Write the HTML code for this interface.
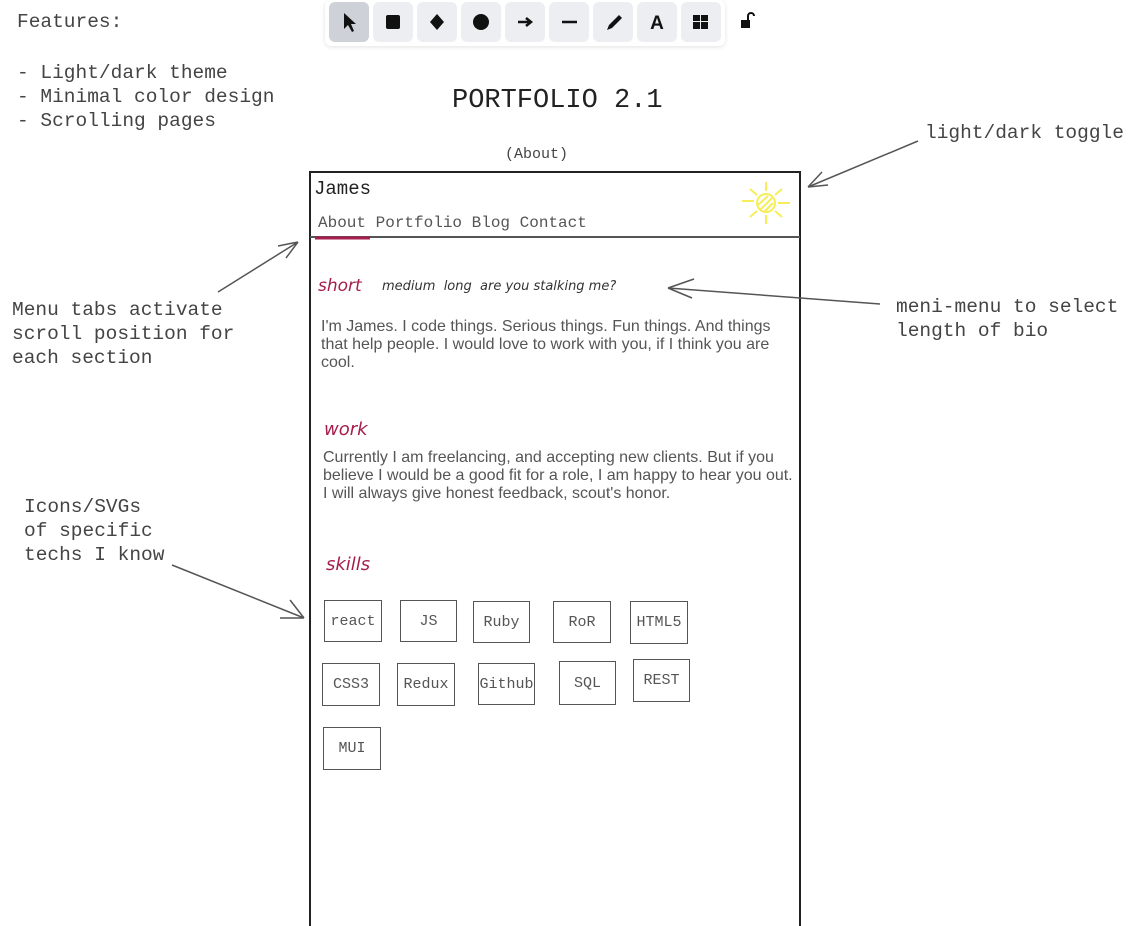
<!DOCTYPE html>
<html><head><meta charset="utf-8"><style>
body{margin:0;width:1134px;height:926px;background:#fff;position:relative;overflow:hidden;font-family:"Liberation Mono",monospace;color:#333}
.a{position:absolute;white-space:pre;line-height:1}
.m{font-size:19.5px;color:#444}
.tb{position:absolute;top:2px;width:40px;height:40px;background:#eceef1;border-radius:6px}
.body{font-family:"Liberation Sans",sans-serif;font-size:16px;color:#555;line-height:18px;white-space:normal}
.hw{font-family:"DejaVu Sans",sans-serif;font-style:italic;color:#a61e4d}
.sk{position:absolute;border:1.5px solid #555;box-sizing:border-box;font-size:15px;color:#555;display:flex;align-items:center;justify-content:center}
</style></head><body>
<div style="position:absolute;left:325px;top:0;width:400px;height:46px;background:#fff;box-shadow:0 1px 4px rgba(0,0,0,.12);border-radius:6px"></div>
<div class="tb" style="left:329px;background:#ced2d8"></div>
<div class="tb" style="left:373px"></div><div class="tb" style="left:417px"></div><div class="tb" style="left:461px"></div><div class="tb" style="left:505px"></div><div class="tb" style="left:549px"></div><div class="tb" style="left:593px"></div><div class="tb" style="left:637px"></div><div class="tb" style="left:681px"></div>
<svg style="position:absolute;left:0;top:0" width="1134" height="926">
<path d="M344 13 L344 29 L348 25 L352 32 L354 31 L351 24 L356 24 Z" fill="#111"/>
<rect x="386" y="15" width="14" height="14" rx="2" fill="#111"/>
<path d="M437 14 L444 22 L437 30 L430 22Z" fill="#111"/>
<circle cx="481" cy="22" r="8" fill="#111"/>
<path d="M518 22 H530 M526 18 L531 22 L526 26" stroke="#111" stroke-width="2.5" fill="none"/>
<path d="M562 22 H577" stroke="#111" stroke-width="2.5"/>
<path d="M607 30 L609 25 L619 15 L622 18 L612 28Z" fill="#111"/>
<text x="657" y="29" font-family="Liberation Sans" font-weight="bold" font-size="19" text-anchor="middle" fill="#111">A</text>
<rect x="693" y="15" width="7" height="6" fill="#111"/><rect x="701" y="15" width="7" height="6" fill="#111"/><rect x="693" y="22" width="7" height="7" fill="#111"/><rect x="701" y="22" width="7" height="7" fill="#111"/>
<rect x="741" y="20" width="9" height="8" fill="#111"/><path d="M748 20 V16 a3 3 0 0 1 6 0" stroke="#111" stroke-width="2" fill="none"/>
<rect x="310" y="172" width="490" height="760" fill="none" stroke="#222" stroke-width="2"/>
<line x1="310" y1="237" x2="800" y2="237" stroke="#555" stroke-width="2"/>
<line x1="315" y1="238" x2="370" y2="238" stroke="#a61e4d" stroke-width="3"/>
<g stroke="#f5ee5a" stroke-width="2" fill="none">
<circle cx="766" cy="203" r="9"/>
<path d="M760 210 L772 198 M758 205 L768 196 M764 212 L773 203"/>
<path d="M766 182 V191 M766 215 V224 M742 201 H754 M778 203 H790 M750 189 L757 195 M775 211 L782 217 M750 217 L757 211 M775 195 L782 189"/>
</g>
<g stroke="#555" stroke-width="1.5" fill="none">
<path d="M918 141 L808 187 M808 187 L822 172 M808 187 L828 185"/>
<path d="M218 292 L298 242 M298 242 L278 246 M298 242 L286 258"/>
<path d="M880 304 L668 288 M668 288 L694 279 M668 288 L692 298"/>
<path d="M172 565 L304 618 M304 618 L290 600 M304 618 L280 618"/>
</g>
</svg>
<div class="a m" style="left:17px;top:13px">Features:</div>
<div class="a m" style="left:17px;top:61px;line-height:24px">- Light/dark theme
- Minimal color design
- Scrolling pages</div>
<div class="a" style="left:452px;top:88px;font-size:27px;color:#222">PORTFOLIO 2.1</div>
<div class="a" style="left:505px;top:147px;font-size:15px;color:#444">(About)</div>
<div class="a m" style="left:925px;top:124px">light/dark toggle</div>
<div class="a m" style="left:12px;top:298px;line-height:24px">Menu tabs activate
scroll position for
each section</div>
<div class="a m" style="left:896px;top:295px;line-height:24px">meni-menu to select
length of bio</div>
<div class="a m" style="left:24px;top:495px;line-height:24px">Icons/SVGs
of specific
techs I know</div>
<div class="a" style="left:314px;top:180px;font-size:19px;color:#222">James</div>
<div class="a" style="left:318px;top:215px;font-size:16px;color:#555">About Portfolio Blog Contact</div>
<div class="a hw" style="left:318px;top:278px;font-size:17px">short</div>
<div class="a hw" style="left:382px;top:280px;font-size:13px;color:#333">medium  long  are you stalking me?</div>
<div class="a body" style="left:321px;top:318px;width:460px">I'm James. I code things. Serious things. Fun things. And things that help people. I would love to work with you, if I think you are cool.</div>
<div class="a hw" style="left:324px;top:421px;font-size:18px">work</div>
<div class="a body" style="left:323px;top:449px;width:474px">Currently I am freelancing, and accepting new clients. But if you believe I would be a good fit for a role, I am happy to hear you out. I will always give honest feedback, scout's honor.</div>
<div class="a hw" style="left:326px;top:556px;font-size:18px">skills</div>
<div class="sk" style="left:324px;top:600px;width:58px;height:42px">react</div>
<div class="sk" style="left:400px;top:600px;width:57px;height:42px">JS</div>
<div class="sk" style="left:473px;top:601px;width:57px;height:42px">Ruby</div>
<div class="sk" style="left:553px;top:601px;width:58px;height:42px">RoR</div>
<div class="sk" style="left:630px;top:601px;width:58px;height:43px">HTML5</div>
<div class="sk" style="left:322px;top:663px;width:58px;height:43px">CSS3</div>
<div class="sk" style="left:397px;top:663px;width:58px;height:43px">Redux</div>
<div class="sk" style="left:478px;top:663px;width:57px;height:42px">Github</div>
<div class="sk" style="left:559px;top:661px;width:57px;height:44px">SQL</div>
<div class="sk" style="left:633px;top:659px;width:57px;height:43px">REST</div>
<div class="sk" style="left:323px;top:727px;width:58px;height:43px">MUI</div>
</body></html>
